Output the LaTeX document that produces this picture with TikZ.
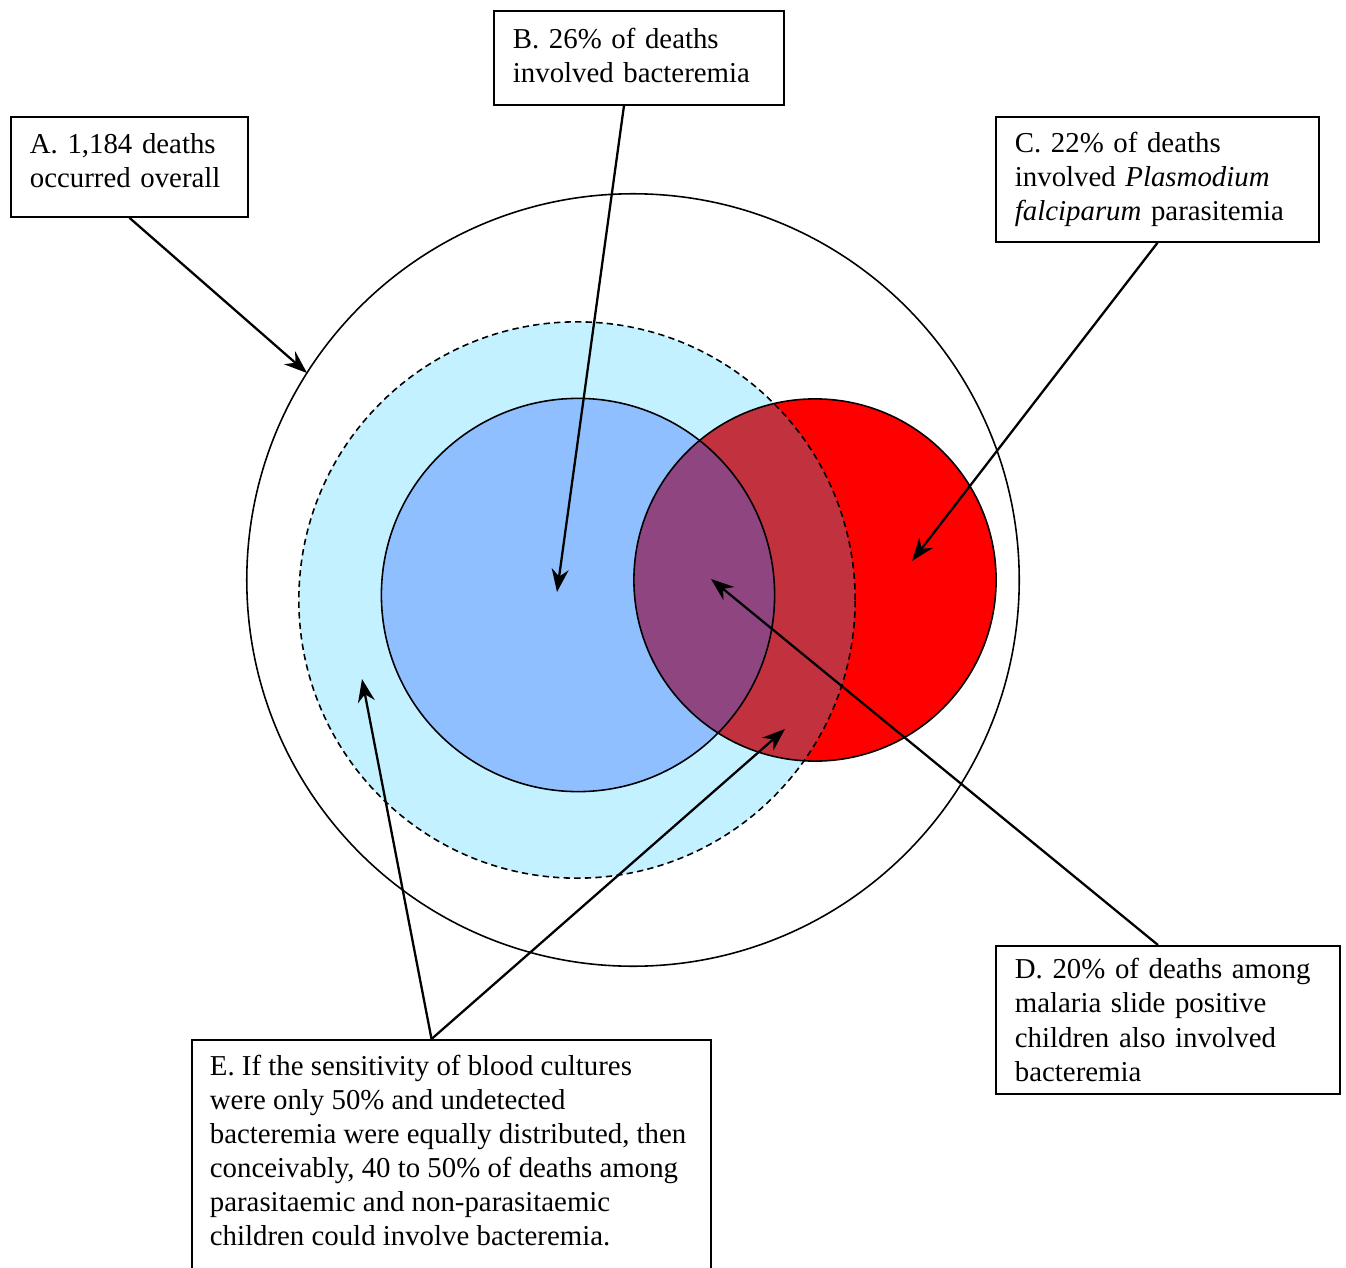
\documentclass[tikz,border=0pt]{standalone}
\usepackage{fontspec}
\setmainfont{Liberation Serif}
\usetikzlibrary{arrows.meta}
\definecolor{outerfill}{HTML}{C4F1FF}
\definecolor{bactfill}{HTML}{8FBFFF}
\definecolor{malfill}{HTML}{FF0000}
\definecolor{mixfill}{HTML}{C1313E}
\definecolor{bothfill}{HTML}{8E4580}
\tikzset{
  callout/.style={draw, line width=0.5pt, fill=white, anchor=north west,
    align=left, inner xsep=0.19cm, font=\fontsize{8.2}{9.7}\selectfont},
  pointer/.style={line width=0.65pt, -{Stealth[length=0.23cm,width=0.17cm]}},
  ring/.style={line width=0.45pt}
}
\begin{document}
\begin{tikzpicture}[x=0.01cm,y=-0.01cm]
\clip (0,0) rectangle (1346,1267);
% filled regions
\fill[outerfill] (577,600) circle (2.78cm);
\fill[bactfill] (578,595) circle (1.965cm);
\fill[malfill] (815,580) circle (1.81cm);
\begin{scope}
\clip (815,580) circle (1.81cm);
\fill[mixfill] (577,600) circle (2.78cm);
\fill[bothfill] (578,595) circle (1.965cm);
\end{scope}
% outlines
\draw[ring] (633,580) circle (3.86cm);
\draw[ring] (578,595) circle (1.965cm);
\draw[ring] (815,580) circle (1.81cm);
\draw[ring, dash pattern=on 1.8pt off 1.2pt] (577,600) circle (2.78cm);
% boxes
\node[callout, text width=1.99cm, minimum height=1cm] (A) at (10,116)
  {A. 1,184 deaths\\occurred overall\\[-6pt]\mbox{}};
\node[callout, text width=2.52cm, minimum height=0.94cm] (B) at (493,10)
  {B. 26\% of deaths\\involved bacteremia\\[-8pt]\mbox{}};
\node[callout, text width=2.85cm, minimum height=1.25cm] (C) at (995,116)
  {C. 22\% of deaths\\involved \textit{Plasmodium}\\\textit{falciparum} parasitemia};
\node[callout, text width=3.06cm, minimum height=1.48cm] (D) at (995,945)
  {D. 20\% of deaths among\\malaria slide positive\\children also involved\\bacteremia};
\node[callout, inner xsep=0.18cm, inner ysep=0.15cm] (E) at (191,1039)
  {\begin{minipage}[t][2.6cm][t]{4.83cm}\raggedright
  E. If the sensitivity of blood cultures\\were only 50\% and undetected\\bacteremia were equally distributed, then\\conceivably, 40 to 50\% of deaths among\\parasitaemic and non-parasitaemic\\children could involve bacteremia.
  \end{minipage}};
% arrow tips
\coordinate (tipA) at (307,373);
\coordinate (tipB) at (557,592);
\coordinate (tipC) at (912,561);
\coordinate (tipD) at (711,579);
\coordinate (tipE1) at (362,679);
\coordinate (tipE2) at (785,729);
\draw[pointer] (A.south) -- (tipA);
\draw[pointer] ([xshift=-0.15cm]B.south) -- (tipB);
\draw[pointer] (C.south) -- (tipC);
\draw[pointer] ([xshift=-0.1cm]D.north) -- (tipD);
\draw[pointer] ([xshift=-0.2cm]E.north) -- (tipE1);
\draw[pointer] ([xshift=-0.2cm]E.north) -- (tipE2);
\end{tikzpicture}
\end{document}
